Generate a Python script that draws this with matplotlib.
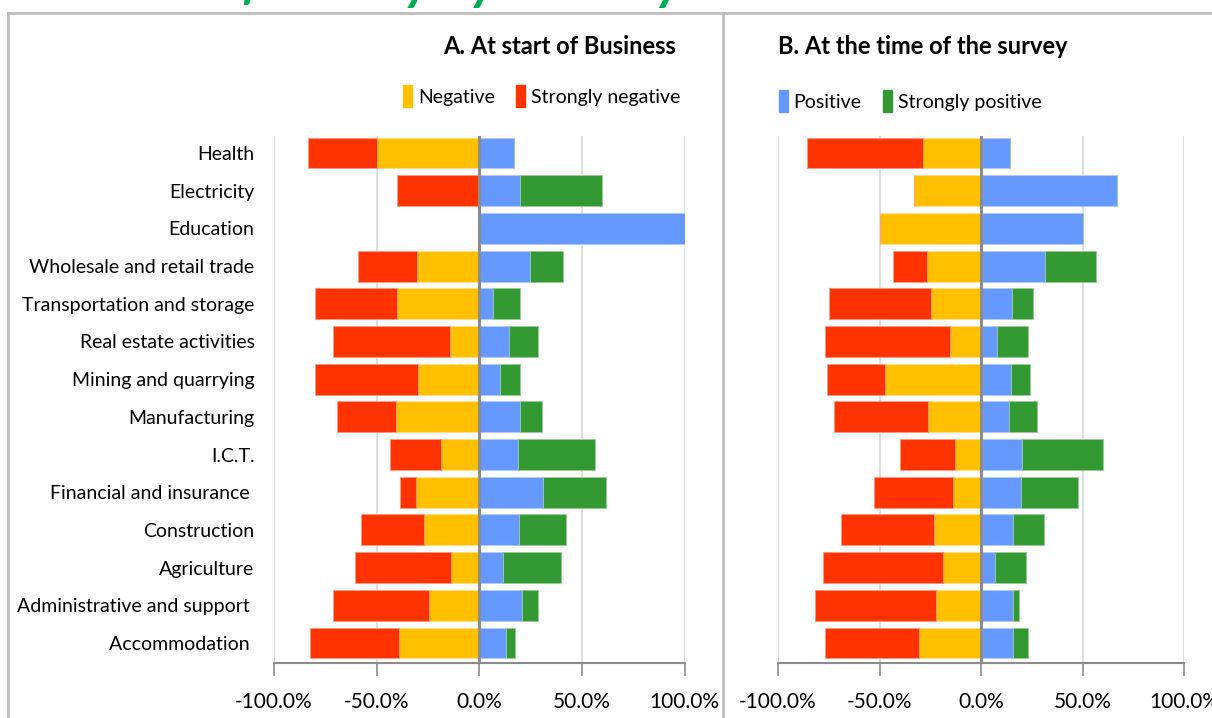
import matplotlib.pyplot as plt
import numpy as np
from matplotlib.lines import Line2D
from matplotlib.patches import Patch

plt.rcParams['font.family'] = ['Lato', 'DejaVu Sans']

activities = [
    "Health", "Electricity", "Education", "Wholesale and retail trade",
    "Transportation and storage", "Real estate activities",
    "Mining and quarrying", "Manufacturing", "I.C.T.",
    "Financial and insurance ", "Construction", "Agriculture",
    "Administrative and support ", "Accommodation ",
]

# A. at start of business (% of firms)
start_negative = [49.9, 0.0, 0.0, 30.6, 40.0, 14.3, 30.1, 40.8, 18.9, 30.9, 27.0, 14.0, 24.7, 39.3]
start_strong_negative = [33.4, 40.0, 0.0, 28.6, 39.9, 57.0, 49.8, 28.6, 24.8, 7.5, 30.7, 46.4, 46.5, 43.3]
start_positive = [16.7, 20.0, 100.0, 24.5, 6.8, 14.3, 10.2, 19.8, 18.8, 30.8, 19.5, 11.7, 20.6, 13.0]
start_strong_positive = [0.0, 39.9, 0.0, 16.3, 13.2, 14.3, 9.8, 10.7, 37.4, 30.7, 22.9, 27.9, 8.1, 4.4]

# B. at the time of the survey (% of firms)
survey_negative = [28.4, 33.1, 49.9, 26.9, 24.8, 15.3, 47.4, 26.2, 13.1, 13.8, 23.0, 18.6, 22.0, 30.5]
survey_strong_negative = [57.1, 0.0, 0.0, 16.6, 50.0, 61.5, 28.5, 46.1, 26.6, 38.7, 46.0, 59.3, 59.7, 46.3]
survey_positive = [14.4, 66.9, 50.2, 31.5, 15.3, 8.0, 14.6, 13.6, 20.3, 19.7, 15.6, 6.6, 15.9, 15.6]
survey_strong_positive = [0.0, 0.0, 0.0, 24.9, 10.0, 15.3, 9.5, 14.0, 39.9, 27.9, 15.4, 15.5, 2.5, 7.7]

tick_values = [-100, -50, 0, 50, 100]

YELLOW = "#FFC000"
RED = "#FF3300"
BLUE = "#6699FF"
GREEN = "#339933"
GRID = "#D9D9D9"
AXIS = "#8C8C8C"
FRAME = "#BFBFBF"

fig = plt.figure(figsize=(12.12, 7.18), dpi=100)

W, H = 1212, 718
ax_a = fig.add_axes([274 / W, 1 - 663 / H, 410.7 / W, 527 / H])
ax_b = fig.add_axes([778 / W, 1 - 663 / H, 406.3 / W, 527 / H])

y = np.arange(len(activities))[::-1]
bar_h = 0.82


def draw_panel(ax, neg, sneg, pos, spos):
    neg = np.array(neg)
    sneg = np.array(sneg)
    pos = np.array(pos)
    spos = np.array(spos)
    ax.barh(y, -neg, height=bar_h, color=YELLOW, edgecolor="#FFE08A", linewidth=0.6, zorder=3)
    ax.barh(y, -sneg, left=-neg, height=bar_h, color=RED, edgecolor="#FF9980", linewidth=0.6, zorder=3)
    ax.barh(y, pos, height=bar_h, color=BLUE, edgecolor="#B3CCFF", linewidth=0.6, zorder=3)
    ax.barh(y, spos, left=pos, height=bar_h, color=GREEN, edgecolor="#99CC99", linewidth=0.6, zorder=3)

    ax.set_xlim(-100, 100)
    ax.set_ylim(-0.53, len(activities) - 0.55)
    ax.set_xticks(tick_values)
    ax.set_xticklabels([f"{v:.1f}%" for v in tick_values])
    ax.tick_params(axis="x", direction="out", length=9, width=1.2, color=AXIS,
                   labelsize=15, pad=12)
    for v in tick_values:
        if v != 0:
            ax.axvline(v, color=GRID, linewidth=1.2, zorder=0)
    ax.axvline(0, color=AXIS, linewidth=2.2, zorder=4)
    for side in ["top", "right", "left"]:
        ax.spines[side].set_visible(False)
    ax.spines["bottom"].set_color(AXIS)
    ax.spines["bottom"].set_linewidth(1.5)


draw_panel(ax_a, start_negative, start_strong_negative, start_positive, start_strong_positive)
draw_panel(ax_b, survey_negative, survey_strong_negative, survey_positive, survey_strong_positive)

ax_a.set_yticks(y)
ax_a.set_yticklabels(activities, fontsize=14)
ax_a.tick_params(axis="y", length=0, pad=14)
ax_b.set_yticks([])

fig.text(676 / W, 1 - 46 / H, "A. At start of Business", ha="right", va="center",
         fontsize=17, fontweight="bold")
fig.text(778 / W, 1 - 46 / H, "B. At the time of the survey", ha="left", va="center",
         fontsize=17, fontweight="bold")

legend_style = dict(ncol=2, frameon=False, fontsize=14, handlelength=0.45,
                    handleheight=1.3, handletextpad=0.3, columnspacing=1.1,
                    borderaxespad=0, borderpad=0)
fig.legend(
    handles=[Patch(color=YELLOW, label="Negative"), Patch(color=RED, label="Strongly negative")],
    loc="center right", bbox_to_anchor=(680 / W, 1 - 96 / H), **legend_style,
)
fig.legend(
    handles=[Patch(color=BLUE, label="Positive"), Patch(color=GREEN, label="Strongly positive")],
    loc="center left", bbox_to_anchor=(779 / W, 1 - 101 / H), **legend_style,
)

# heading sitting above the frame, mostly cut by the top edge
fig.text(165 / W, 1 + 1 / H, "Profitability by Activity", ha="left", va="baseline",
         fontsize=38, fontweight="bold", style="italic", color="#00B050")

# outer frame and the divider between the two panels
fig.add_artist(Line2D([8 / W, 1], [1 - 13 / H, 1 - 13 / H], color=FRAME, linewidth=2))
fig.add_artist(Line2D([8 / W, 8 / W], [0, 1 - 13 / H], color=FRAME, linewidth=2))
fig.add_artist(Line2D([723 / W, 723 / W], [0, 1 - 13 / H], color=FRAME, linewidth=2))

fig.savefig("out.png", dpi=100)
